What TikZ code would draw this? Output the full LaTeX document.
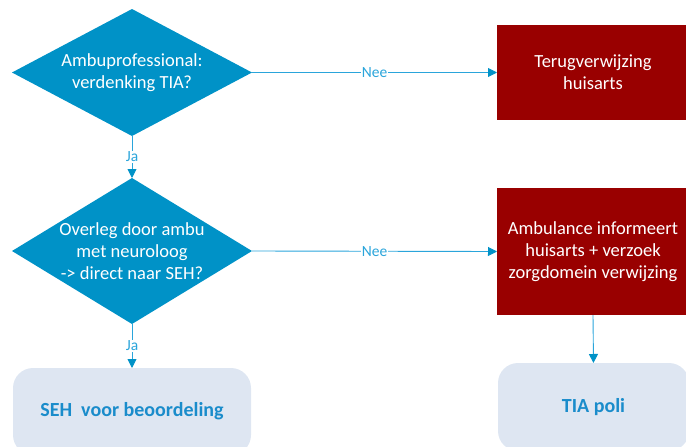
\documentclass[tikz,border=0pt]{standalone}
\usepackage{fontspec}
\setmainfont{Carlito}
\usetikzlibrary{arrows.meta,positioning,shapes.geometric}
\definecolor{diablue}{HTML}{0092C7}
\definecolor{linkblue}{HTML}{2AA5DB}
\definecolor{boxred}{HTML}{990000}
\definecolor{boxlight}{HTML}{DEE6F2}
\definecolor{boxtext}{HTML}{1A8CCB}

\begin{document}
\begin{tikzpicture}[x=1pt, y=-1pt, >={Triangle[length=9pt, width=9pt, color=diablue]},
  font=\fontsize{18.5}{22.3}\selectfont,
  dec/.style={diamond, fill=diablue, text=white, align=center, inner sep=-30pt, outer sep=0pt, minimum width=240pt},
  act/.style={rectangle, fill=boxred, text=white, align=center, outer sep=0pt, minimum width=192pt},
  term/.style={rectangle, rounded corners=20pt, fill=boxlight, text=boxtext, outer sep=0pt, font=\fontsize{20}{24}\selectfont\bfseries},
  conn/.style={draw=linkblue, line width=0.9pt, ->},
  lbl/.style={fill=white, inner sep=1pt, text=linkblue, font=\fontsize{15.5}{18}\selectfont}]
\clip (0,0) rectangle (686,447);
\node[dec, minimum height=127pt] (ambu) at (132,72.5) {Ambuprofessional:\\ verdenking TIA?};
\node[act, minimum height=95pt] (terug) at (593,72.5) {Terugverwijzing\\ huisarts};
\node[dec, minimum height=146pt] (overleg) at (132,251) {Overleg door ambu\\ met neuroloog\\ -> direct naar SEH?};
\node[act, minimum height=127pt] (inform) at (593,251.5) {Ambulance informeert\\ huisarts + verzoek\\ zorgdomein verwijzing};
\node[term, minimum width=238pt, minimum height=87pt] (seh) at (132,411.5) {SEH\ \ voor beoordeling};
\node[term, minimum width=191pt, minimum height=88pt] (poli) at (593.5,407) {TIA poli};
\draw[conn] (ambu.east) -- node[lbl]{Nee} (terug.west);
\draw[conn] (ambu.south) -- node[lbl]{Ja} (overleg.north);
\draw[conn] (overleg.east) -- node[lbl]{Nee} (inform.west);
\draw[conn] (overleg.south) -- node[lbl]{Ja} (seh.north);
\draw[conn] (inform.south) -- (poli.north);
\end{tikzpicture}
\end{document}
